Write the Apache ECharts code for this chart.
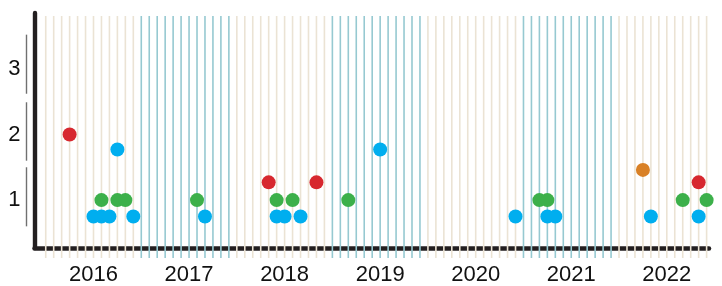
<!DOCTYPE html>
<html><head><meta charset="utf-8">
<script src="https://cdn.jsdelivr.net/npm/echarts@6/dist/echarts.min.js"></script>
<style>html,body{margin:0;padding:0;background:#fff}#c{width:722px;height:286px}</style>
</head><body><div id="c"></div>
<script>
// ---- data ----
const years = ['2016','2017','2018','2019','2020','2021','2022'];
const yTicks = [1, 2, 3];
const bands = [[0.6, 1.5], [1.6, 2.49], [2.62, 3.52]];

const blueDates  = ['2016-07','2016-08','2016-09','2016-12','2017-09','2018-06','2018-07','2018-09','2020-12','2021-04','2021-05','2022-05','2022-11','2016-10','2019-07'];
const blueLevels = [0.75,0.75,0.75,0.75,0.75,0.75,0.75,0.75,0.75,0.75,0.75,0.75,0.75,1.77,1.77];

const greenDates  = ['2016-08','2016-10','2016-11','2017-08','2018-06','2018-08','2019-03','2021-03','2021-04','2022-09','2022-12'];
const greenLevels = [1,1,1,1,1,1,1,1,1,1,1];

const redDates  = ['2016-04','2018-05','2018-11','2022-11'];
const redLevels = [2, 1.27, 1.27, 1.27];

const orangeDates  = ['2022-04'];
const orangeLevels = [1.46];

// ---- helpers ----
const startYear = +years[0];
function mIdx(s){ const [y,m] = s.split('-').map(Number); return (y - startYear) * 12 + (m - 1); }
function pts(dates, levels){ return dates.map((d,i) => [mIdx(d), levels[i]]); }
const months = [];
years.forEach((y, yi) => { for (let m = 0; m < 12; m++) months.push(yi * 12 + m); });
const yearMid = years.map((y, i) => i * 12 + 6);

const BEIGE = '#ebe3d4', TEAL = '#96c9d1', INK = '#231f20';
const FONT = {fontFamily: 'Liberation Sans', fontSize: 22, color: '#111'};

const chart = echarts.init(document.getElementById('c'), null, {renderer: 'canvas'});
const dot = c => ({color: c, opacity: 1});
chart.setOption({
  animation: false,
  backgroundColor: '#fff',
  grid: {left: 34.5, right: 13, top: 13, bottom: 37, containLabel: false},
  xAxis: {
    type: 'value', min: -1.41, max: 83.3,
    axisLine: {show: true, onZero: false, lineStyle: {color: INK, width: 4.5}},
    axisTick: {show: false},
    splitLine: {show: false},
    axisLabel: Object.assign({
      customValues: yearMid, margin: 16,
      formatter: v => years[Math.round((v - 6) / 12)]
    }, FONT)
  },
  yAxis: {
    type: 'value', min: 0.27, max: 3.85,
    axisLine: {show: true, onZero: false, lineStyle: {color: INK, width: 4.4}},
    axisTick: {show: false},
    splitLine: {show: false},
    axisLabel: Object.assign({customValues: yTicks, margin: 14, padding: [3, 0, 0, 0]}, FONT)
  },
  series: [
    {
      type: 'custom', clip: false, z: 1, silent: true,
      data: months,
      renderItem(params, api){
        const i = api.value(0);
        const x = api.coord([i, 1])[0];
        const cs = params.coordSys;
        const yr = Math.floor(i / 12);
        return {type: 'line',
          shape: {x1: x, y1: cs.y + 3, x2: x, y2: cs.y + cs.height + 10},
          style: {stroke: yr % 2 ? TEAL : BEIGE, lineWidth: 1.6}};
      }
    },
    {
      type: 'custom', clip: false, z: 1, silent: true,
      data: bands,
      renderItem(params, api){
        const cs = params.coordSys;
        const a = api.coord([0, api.value(0)])[1];
        const b = api.coord([0, api.value(1)])[1];
        const x = cs.x - 8;
        return {type: 'line', shape: {x1: x, y1: a, x2: x, y2: b},
          style: {stroke: '#707070', lineWidth: 1.4}};
      }
    },
    {type: 'scatter', z: 5, symbolSize: 14, itemStyle: dot('#00aeef'), data: pts(blueDates, blueLevels)},
    {type: 'scatter', z: 5, symbolSize: 14, itemStyle: dot('#3cb04a'), data: pts(greenDates, greenLevels)},
    {type: 'scatter', z: 5, symbolSize: 14, itemStyle: dot('#d7282f'), data: pts(redDates, redLevels)},
    {type: 'scatter', z: 5, symbolSize: 14, itemStyle: dot('#d98127'), data: pts(orangeDates, orangeLevels)}
  ]
});
</script>
</body></html>
